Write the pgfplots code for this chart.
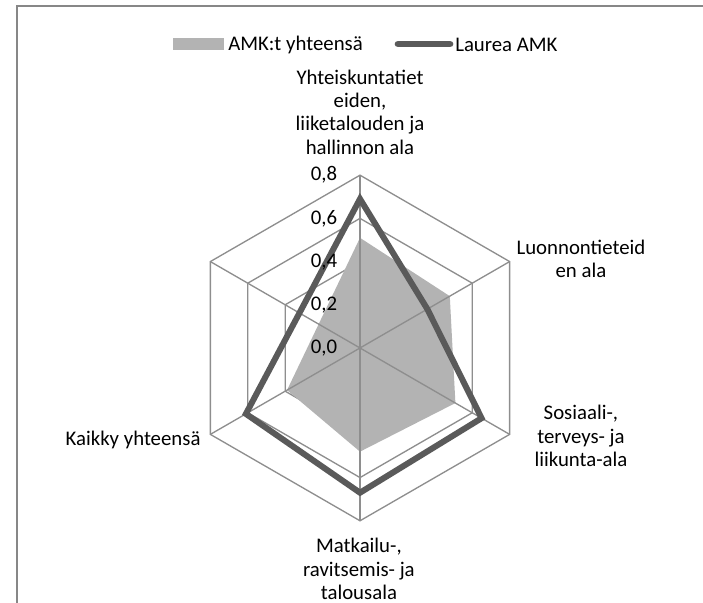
\documentclass[border=0pt]{standalone}
\usepackage{fontspec}
\setmainfont{Carlito}
\usepackage{pgfplots}
\pgfplotsset{compat=1.18}

\definecolor{amkfill}{HTML}{B3B3B3}
\definecolor{laurea}{HTML}{5A5A5A}
\definecolor{gridc}{HTML}{8E8E8E}
\definecolor{framec}{HTML}{878787}

\newcommand{\lbl}{\fontsize{15.6}{17.5}\selectfont}

\begin{document}
\begin{tikzpicture}
\begin{axis}[
    x=162pt, y=162pt,
    scale only axis,
    hide axis,
    xmin=-1.6667, xmax=1.5880,
    ymin=-1.1806, ymax=1.6111,
]
% hexagonal rings (drawn first, the fill covers them)
\addplot[gridc, line width=1pt, data cs=polar] coordinates {(90,0.2) (30,0.2) (-30,0.2) (-90,0.2) (-150,0.2) (150,0.2)} -- cycle;
\addplot[gridc, line width=1pt, data cs=polar] coordinates {(90,0.4) (30,0.4) (-30,0.4) (-90,0.4) (-150,0.4) (150,0.4)} -- cycle;
\addplot[gridc, line width=1pt, data cs=polar] coordinates {(90,0.6) (30,0.6) (-30,0.6) (-90,0.6) (-150,0.6) (150,0.6)} -- cycle;
\addplot[gridc, line width=1pt, data cs=polar] coordinates {(90,0.8) (30,0.8) (-30,0.8) (-90,0.8) (-150,0.8) (150,0.8)} -- cycle;

% AMK:t yhteensa
\addplot[fill=amkfill, draw=none, data cs=polar] coordinates {
    (90,0.51) (30,0.48) (-30,0.51) (-90,0.48) (-150,0.39)
} -- cycle;

% spokes
\addplot[gridc, line width=1pt, data cs=polar] coordinates {(90,0.8) (-90,0.8)};
\addplot[gridc, line width=1pt, data cs=polar] coordinates {(30,0.8) (-150,0.8)};
\addplot[gridc, line width=1pt, data cs=polar] coordinates {(150,0.8) (-30,0.8)};

% Laurea AMK
\addplot[laurea, line width=4.5pt, data cs=polar] coordinates {
    (90,0.69) (30,0.36) (-30,0.65) (-90,0.67) (-150,0.61)
} -- cycle;

% value labels
\foreach \v/\t in {0/{0,0}, 0.2/{0,2}, 0.4/{0,4}, 0.6/{0,6}, 0.8/{0,8}} {
    \edef\temp{\noexpand\node[anchor=east, inner sep=0pt, font=\noexpand\lbl] at (axis cs:-0.105,\v) {\t};}
    \temp
}

% category labels
\node[align=center, inner sep=0pt, font=\lbl] at (axis cs:0,1.093)
    {Yhteiskuntatiet\\eiden,\\liiketalouden ja\\hallinnon ala};
\node[align=center, inner sep=0pt, font=\lbl] at (axis cs:1.023,0.412)
    {Luonnontieteid\\en ala};
\node[align=center, inner sep=0pt, font=\lbl] at (axis cs:1.023,-0.407)
    {Sosiaali-,\\terveys- ja\\liikunta-ala};
\node[align=center, inner sep=0pt, font=\lbl] at (axis cs:-0.005,-1.023)
    {Matkailu-,\\ravitsemis- ja\\talousala};
\node[anchor=east, inner sep=0pt, font=\lbl] at (axis cs:-0.7375,-0.426)
    {Kaikky yhteensä};

% legend
\fill[amkfill] (axis cs:-0.8676,1.3796) rectangle (axis cs:-0.6296,1.4338);
\node[anchor=west, inner sep=0pt, font=\lbl] at (axis cs:-0.6111,1.4028) {AMK:t yhteensä};
\draw[laurea, line width=5pt, line cap=round] (axis cs:0.1759,1.407) -- (axis cs:0.4167,1.407);
\node[anchor=west, inner sep=0pt, font=\lbl] at (axis cs:0.4398,1.4028) {Laurea AMK};

% chart area frame (top and left edges visible)
\draw[framec, line width=1.8pt] (axis cs:-1.5880,-1.1806) -- (axis cs:-1.5880,1.5833) -- (axis cs:1.5880,1.5833);
\end{axis}
\path (current axis.south west) rectangle (current axis.north east);
\end{tikzpicture}
\end{document}
